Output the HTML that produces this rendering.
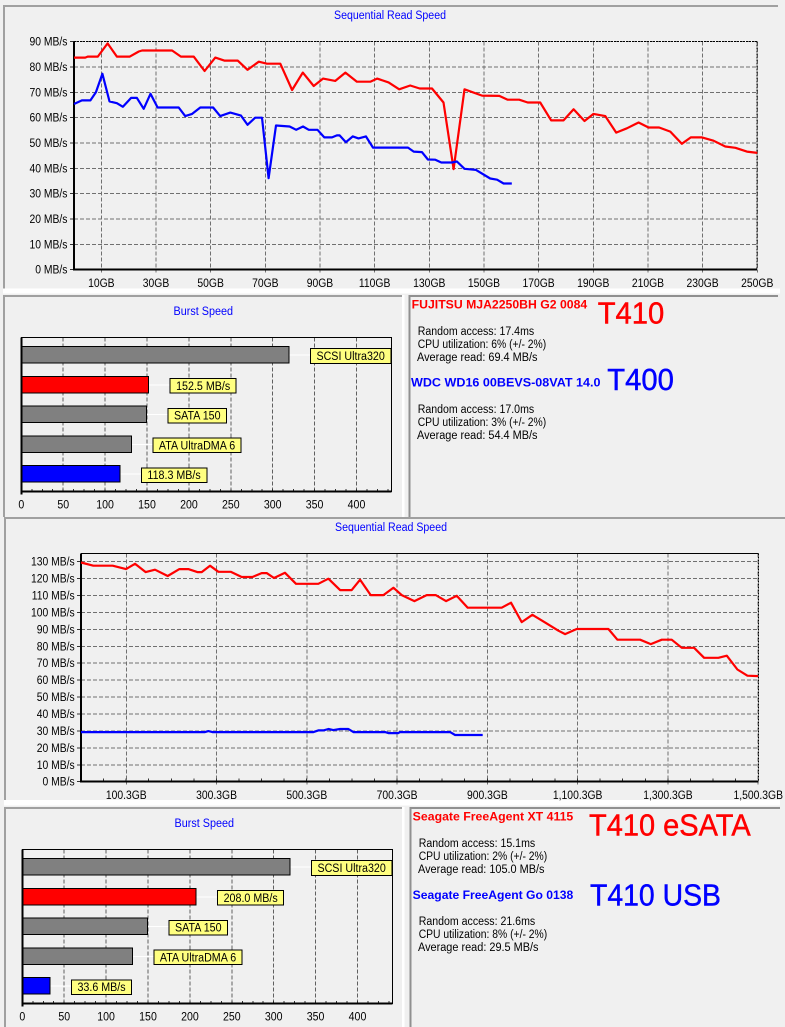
<!DOCTYPE html>
<html>
<head>
<meta charset="utf-8">
<title>Drive benchmark comparison</title>
<style>
html,body{margin:0;padding:0;background:#f0f0f0;}
svg{display:block;}
text{font-family:"Liberation Sans",sans-serif;}
.tick{font-size:11.5px;fill:#000;}
.title{font-size:11.5px;fill:#0000ff;}
.info{font-size:11.5px;fill:#000;}
.name{font-size:12px;font-weight:bold;}
.big{font-size:31px;stroke-width:0.45px;}
.red{fill:#ff0000;stroke:#ff0000;}
.blue{fill:#0000ff;stroke:#0000ff;}
</style>
</head>
<body>
<svg id="root" xmlns="http://www.w3.org/2000/svg" width="785" height="1027" viewBox="0 0 785 1027">
  <rect x="0" y="0" width="785" height="1027" fill="#f0f0f0"/>

  <g fill="none" shape-rendering="crispEdges">
    <rect x="3" y="288.5" width="777" height="5" fill="#ffffff"/>
    <rect x="4" y="800" width="776" height="5.5" fill="#ffffff"/>
    <rect x="402" y="295" width="2.5" height="222" fill="#ffffff"/>
    <rect x="402" y="807" width="2.5" height="220" fill="#ffffff"/>
    <path d="M4.2 288.5V6H778" stroke="#a0a0a0" stroke-width="2"/>
    <path d="M4.2 517V296H402" stroke="#a0a0a0" stroke-width="2"/>
    <path d="M409.7 517V296H778" stroke="#909090" stroke-width="2"/>
    <path d="M4 517.8H785" stroke="#a0a0a0" stroke-width="2"/>
    <path d="M5 800V518" stroke="#a0a0a0" stroke-width="2"/>
    <path d="M5 1027V808H402" stroke="#a0a0a0" stroke-width="2"/>
    <path d="M410.7 1027V808H780" stroke="#909090" stroke-width="2"/>
  </g>

  <text class="title" x="334" y="19" textLength="112" lengthAdjust="spacingAndGlyphs">Sequential Read Speed</text>
  <text class="title" x="173.5" y="315" textLength="59.5" lengthAdjust="spacingAndGlyphs">Burst Speed</text>
  <text class="title" x="335" y="531" textLength="112" lengthAdjust="spacingAndGlyphs">Sequential Read Speed</text>
  <text class="title" x="174.5" y="827" textLength="59.5" lengthAdjust="spacingAndGlyphs">Burst Speed</text>

  <g>
    <text class="name" x="411.7" y="308.5" fill="#ff0000" textLength="175.5" lengthAdjust="spacingAndGlyphs">FUJITSU MJA2250BH G2 0084</text>
    <text class="big red" x="597.7" y="323.3" textLength="66.6" lengthAdjust="spacingAndGlyphs">T410</text>
    <text class="info" x="417.7" y="335" textLength="116.5" lengthAdjust="spacingAndGlyphs">Random access: 17.4ms</text>
    <text class="info" x="417.7" y="348" textLength="128.5" lengthAdjust="spacingAndGlyphs">CPU utilization: 6% (+/- 2%)</text>
    <text class="info" x="417" y="361" textLength="120.5" lengthAdjust="spacingAndGlyphs">Average read: 69.4 MB/s</text>
    <text class="name" x="411" y="386.7" fill="#0000ff" textLength="189.5" lengthAdjust="spacingAndGlyphs">WDC WD16 00BEVS-08VAT 14.0</text>
    <text class="big blue" x="607.3" y="390" textLength="66.6" lengthAdjust="spacingAndGlyphs">T400</text>
    <text class="info" x="417.7" y="413" textLength="116.5" lengthAdjust="spacingAndGlyphs">Random access: 17.0ms</text>
    <text class="info" x="417.7" y="426" textLength="128.5" lengthAdjust="spacingAndGlyphs">CPU utilization: 3% (+/- 2%)</text>
    <text class="info" x="417" y="439" textLength="120.5" lengthAdjust="spacingAndGlyphs">Average read: 54.4 MB/s</text>
  </g>

  <g>
    <text class="name" x="412.7" y="820.7" fill="#ff0000" textLength="160.6" lengthAdjust="spacingAndGlyphs">Seagate FreeAgent XT 4115</text>
    <text class="big red" x="589" y="835.7" textLength="161.7" lengthAdjust="spacingAndGlyphs">T410 eSATA</text>
    <text class="info" x="418.7" y="847" textLength="116.5" lengthAdjust="spacingAndGlyphs">Random access: 15.1ms</text>
    <text class="info" x="418.7" y="860" textLength="128.5" lengthAdjust="spacingAndGlyphs">CPU utilization: 2% (+/- 2%)</text>
    <text class="info" x="418" y="873" textLength="126.5" lengthAdjust="spacingAndGlyphs">Average read: 105.0 MB/s</text>
    <text class="name" x="412.7" y="899" fill="#0000ff" textLength="160.6" lengthAdjust="spacingAndGlyphs">Seagate FreeAgent Go 0138</text>
    <text class="big blue" x="590" y="905.7" textLength="131" lengthAdjust="spacingAndGlyphs">T410 USB</text>
    <text class="info" x="418.7" y="925" textLength="116.5" lengthAdjust="spacingAndGlyphs">Random access: 21.6ms</text>
    <text class="info" x="418.7" y="938" textLength="128.5" lengthAdjust="spacingAndGlyphs">CPU utilization: 8% (+/- 2%)</text>
    <text class="info" x="418" y="951" textLength="120.5" lengthAdjust="spacingAndGlyphs">Average read: 29.5 MB/s</text>
  </g>
</svg>

<script>
// ---- Chart data: top sequential read chart ----
const seq1YTicks = [0,10,20,30,40,50,60,70,80,90];
const seq1XTicks = [10,30,50,70,90,110,130,150,170,190,210,230,250];
const seq1RedGB = [0,4.1,5,8.7,12.3,15.7,20.4,23.7,24.9,35.9,39.1,43.8,47.8,51.7,55,59.9,63.5,67.6,70.6,75.5,79.8,83.7,87.7,91.1,95.6,99.3,103.5,108.4,110.9,115.1,119,123,126.5,131,135.2,138.9,142.9,149.3,155.6,158.7,162.9,166,170.6,174.6,179.1,182.8,186.8,190.1,194.4,198.4,202.3,206.6,210.2,214.1,218.2,222.4,225.7,229.8,234,238.3,242,246.2,250];
const seq1RedMB = [83.7,83.7,84.1,84.1,89.3,84.1,84.1,86.1,86.5,86.5,84.1,84.1,78.4,83.7,82.5,82.5,78.9,82.1,81.3,81.3,70.9,77.8,72.5,75.4,74.5,77.8,74.2,74.2,75.4,73.9,71.2,72.7,71.5,71.5,66,39.7,71.2,68.7,68.6,67.1,67.1,66,66,58.9,58.9,63.3,58.7,61.5,60.6,54.1,55.8,58.1,56.1,56.1,54.5,49.7,52.2,52.2,50.9,48.6,48.1,46.6,46.1];
const seq1BlueGB = [0,2.9,6,8,10.4,13,15.7,17.9,20.9,23,25.5,28,30.6,38.3,40.7,43.2,46.2,50.9,53.5,57.2,61.1,63.5,66.3,68.8,71.2,73.9,78.9,81.3,83.8,85.9,89.1,91.6,94.4,96.2,97.2,99.5,102,104.1,106.8,109.4,122.2,124.3,127.3,129.5,132.2,134.4,138.3,140.1,142.9,147.1,152.3,154.8,157.2,160.2];
const seq1BlueMB = [65.4,66.8,66.8,70,77.3,66.4,65.7,64.3,67.8,67.8,63.5,69.4,64,64,60.6,61.5,64,64,60.6,62,60.8,57.2,60,60,36.1,56.9,56.5,55.2,56.5,55.2,55.2,52.2,52.2,53,53,50.3,52.6,51.8,52.6,48.2,48.2,46.6,46.4,43.5,43.4,42.3,42.3,42.7,39.8,39.4,36,35.5,34,34];

// ---- Chart data: bottom sequential read chart ----
const seq2YTicks = [0,10,20,30,40,50,60,70,80,90,100,110,120,130];
const seq2XTicks = [100.3,300.3,500.3,700.3,900.3,1100.3,1300.3,1500.3];
const seq2XTickLabels = ['100.3GB','300.3GB','500.3GB','700.3GB','900.3GB','1,100.3GB','1,300.3GB','1,500.3GB'];
const seq2RedGB = [0,27.3,70.2,99.7,119.6,143.3,164,192,217.9,237.8,257.8,267.4,285.8,304.3,331.6,356,379.6,400.3,411.4,427.6,452,476.4,525.8,548,573.9,599.7,618.2,641.8,669.9,692,710.5,738.6,765.9,785.8,808.7,832.4,856.7,932,952.7,976.4,1000,1028,1057.6,1072.4,1098.2,1168.4,1188.3,1238.5,1262.2,1286.6,1308.7,1330.9,1358.2,1380.4,1412.1,1430.6,1454.2,1476.4,1500];
const seq2RedMB = [129.5,127.6,127.6,125.6,128.7,123.8,125.2,121.5,125.6,125.6,123.8,123.8,127.6,124,124,120.9,120.9,123.2,123.2,120.3,123.4,116.9,116.9,119.9,113.2,113.2,119.3,110.2,110.2,114.6,110.2,106.7,110.2,110.2,106.7,109.8,102.8,102.8,105.7,94.3,98.6,94.1,89.2,87.2,90.2,90.2,83.9,83.9,81.3,83.9,83.9,79.1,79.1,73.2,73.2,74.4,66.3,62.6,62.4];
const seq2BlueGB = [0,274.7,282,291,514.8,525.8,536.9,548,559,573.9,592.3,603.4,673.6,681,703,706.8,817.6,828.7,889.9];
const seq2BlueMB = [29.3,29.3,29.9,29.3,29.3,30.3,30.3,31.1,30.5,31.1,31.1,29.3,29.3,28.7,28.7,29.3,29.3,27.6,27.6];

// ---- Chart data: burst speed charts ----
const burstTicks = [0,50,100,150,200,250,300,350,400];
const burst1Labels = ['SCSI Ultra320','152.5 MB/s','SATA 150','ATA UltraDMA 6','118.3 MB/s'];
const burst1Values = [320,152.5,150,132,118.3];
const burst2Labels = ['SCSI Ultra320','208.0 MB/s','SATA 150','ATA UltraDMA 6','33.6 MB/s'];
const burst2Values = [320,208,150,132,33.6];
const burstColors = ['#808080','#ff0000','#808080','#808080','#0000ff'];

const NS = 'http://www.w3.org/2000/svg';
const root = document.getElementById('root');

function mk(parent, tag, attrs, txt) {
  const el = document.createElementNS(NS, tag);
  for (const k in attrs) el.setAttribute(k, attrs[k]);
  if (txt !== undefined) el.textContent = txt;
  parent.appendChild(el);
  return el;
}

function squeeze(el, factor) {
  el.setAttribute('textLength', (el.getComputedTextLength() * factor).toFixed(2));
  el.setAttribute('lengthAdjust', 'spacingAndGlyphs');
}

function drawSeq(name, box, yTicks, xTicks, xLabels, minorStep, maxGB, redX, redY, blueX, blueY, topStyle) {
  const g = mk(root, 'g', {});
  
  
  const xs = v => box.left + v * box.xScale;
  const ys = v => box.base - v * box.yScale;

  yTicks.forEach(t => {
    const y = ys(t);
    if (t > 0) {
      const line = mk(g, 'line', {x1: box.left, x2: box.right, y1: y, y2: y, stroke: '#707070', 'stroke-dasharray': '4 2', 'shape-rendering': 'crispEdges'});
      
      
    }
    const tk = mk(g, 'line', {x1: box.left - 4, x2: box.left, y1: y, y2: y, stroke: '#333', 'shape-rendering': 'crispEdges'});
    
    
    const lab = mk(g, 'text', {class: 'tick', x: box.yLabelX, y: y + 4, 'text-anchor': 'end'}, t + ' MB/s');
    
    
    squeeze(lab, 0.9);
  });

  xTicks.forEach((t, i) => {
    const x = xs(t);
    const line = mk(g, 'line', {x1: x, x2: x, y1: box.top, y2: box.base + 3, stroke: '#707070', 'stroke-dasharray': '4 2', 'shape-rendering': 'crispEdges'});
    
    
    const lab = mk(g, 'text', {class: 'tick', x: x, y: box.xLabelY, 'text-anchor': 'middle'}, xLabels[i]);
    
    
    squeeze(lab, 0.9);
  });

  for (let v = minorStep; v < maxGB; v += minorStep) {
    const m = mk(g, 'line', {x1: xs(v), x2: xs(v), y1: box.base - 3, y2: box.base, stroke: '#333', 'shape-rendering': 'crispEdges'});
    
    
  }

  const top = mk(g, 'line', Object.assign({x1: box.left, x2: box.right, y1: box.top, y2: box.top, stroke: '#000', 'shape-rendering': 'crispEdges'}, topStyle));
  
  
  const right = mk(g, 'line', {x1: box.right, x2: box.right, y1: box.top, y2: box.base, stroke: '#000', 'stroke-dasharray': '2 1', 'shape-rendering': 'crispEdges'});
  
  
  const left = mk(g, 'line', {x1: box.left, x2: box.left, y1: box.top, y2: box.base + 1, stroke: '#000', 'stroke-width': 2, 'shape-rendering': 'crispEdges'});
  
  
  const bottom = mk(g, 'line', {x1: box.left, x2: box.right, y1: box.base, y2: box.base, stroke: '#000', 'stroke-width': 2, 'shape-rendering': 'crispEdges'});
  
  

  const pts = (a, b) => a.map((v, i) => xs(v).toFixed(1) + ',' + ys(b[i]).toFixed(1)).join(' ');
  const red = mk(g, 'polyline', {points: pts(redX, redY), fill: 'none', stroke: '#ff0000', 'stroke-width': 2.2, 'stroke-linejoin': 'round'});
  
  
  const blue = mk(g, 'polyline', {points: pts(blueX, blueY), fill: 'none', stroke: '#0000ff', 'stroke-width': 2.2, 'stroke-linejoin': 'round'});
  
  
}

function drawBurst(name, box, labels, values) {
  const g = mk(root, 'g', {});
  
  
  const xs = v => box.left + v * 0.838;

  burstTicks.forEach(t => {
    if (t > 0) {
      const line = mk(g, 'line', {x1: xs(t), x2: xs(t), y1: box.top, y2: box.bottom, stroke: '#606060', 'stroke-dasharray': '4 2', 'shape-rendering': 'crispEdges'});
      
      
    }
    const lab = mk(g, 'text', {class: 'tick', x: xs(t), y: box.labelY, 'text-anchor': 'middle'}, String(t));
    
    
    squeeze(lab, 0.92);
  });

  for (let v = 12.5; v < 440; v += 12.5) {
    const m = mk(g, 'line', {x1: xs(v), x2: xs(v), y1: box.bottom - 2.5, y2: box.bottom, stroke: '#333', 'shape-rendering': 'crispEdges'});
    
    
  }

  const frame = mk(g, 'rect', {x: box.left, y: box.top, width: box.right - box.left, height: box.bottom - box.top, fill: 'none', stroke: '#000', 'stroke-width': 1, 'shape-rendering': 'crispEdges'});
  
  
  const axisL = mk(g, 'line', {x1: box.left, x2: box.left, y1: box.top, y2: box.bottom + 3, stroke: '#000', 'stroke-width': 2, 'shape-rendering': 'crispEdges'});
  
  
  const axisB = mk(g, 'line', {x1: box.left, x2: box.right, y1: box.bottom, y2: box.bottom, stroke: '#000', 'stroke-width': 2, 'shape-rendering': 'crispEdges'});
  
  

  values.forEach((v, i) => {
    const top = box.top + 9 + i * 29.8;
    const end = xs(v);
    const conn = mk(g, 'line', {x1: end, x2: end + 21, y1: top + 8.5, y2: top + 8.5, stroke: '#ffffff', 'shape-rendering': 'crispEdges'});
    
    
    const bar = mk(g, 'rect', {x: box.left + 0.5, y: top, width: Math.max(0, end - box.left - 1), height: 16.5, fill: burstColors[i], stroke: '#000', 'stroke-width': 1, 'shape-rendering': 'crispEdges'});
    
    
    const lb = mk(g, 'rect', {x: end + 21, y: top + 2.2, width: 60, height: 14.6, fill: '#ffff80', stroke: '#000', 'stroke-width': 1, 'shape-rendering': 'crispEdges'});
    
    
    const lt = mk(g, 'text', {class: 'tick', x: end + 27, y: top + 13.5}, labels[i]);
    
    
    const w = lt.getComputedTextLength() * 0.93;
    squeeze(lt, 0.93);
    lb.setAttribute('width', w + 12);
  });
}

drawSeq('sequential-chart-top',
  {left: 74, right: 757, top: 41.5, base: 269.7, xScale: 2.733, yScale: 2.534, yLabelX: 67.5, xLabelY: 287},
  seq1YTicks, seq1XTicks, seq1XTicks.map(t => t + 'GB'), 1000, 250,
  seq1RedGB, seq1RedMB, seq1BlueGB, seq1BlueMB,
  {'stroke-dasharray': '2 1'});

drawSeq('sequential-chart-bottom',
  {left: 81, right: 758.3, top: 553.5, base: 781.7, xScale: 0.4514, yScale: 1.693, yLabelX: 74.7, xLabelY: 799},
  seq2YTicks, seq2XTicks, seq2XTickLabels, 50, 1500,
  seq2RedGB, seq2RedMB, seq2BlueGB, seq2BlueMB,
  {});

drawBurst('burst-chart-top', {left: 21.3, right: 391.5, top: 337.5, bottom: 491.5, labelY: 508.7}, burst1Labels, burst1Values);
drawBurst('burst-chart-bottom', {left: 22.3, right: 392.5, top: 849.5, bottom: 1003.5, labelY: 1020.7}, burst2Labels, burst2Values);
</script>
</body>
</html>
